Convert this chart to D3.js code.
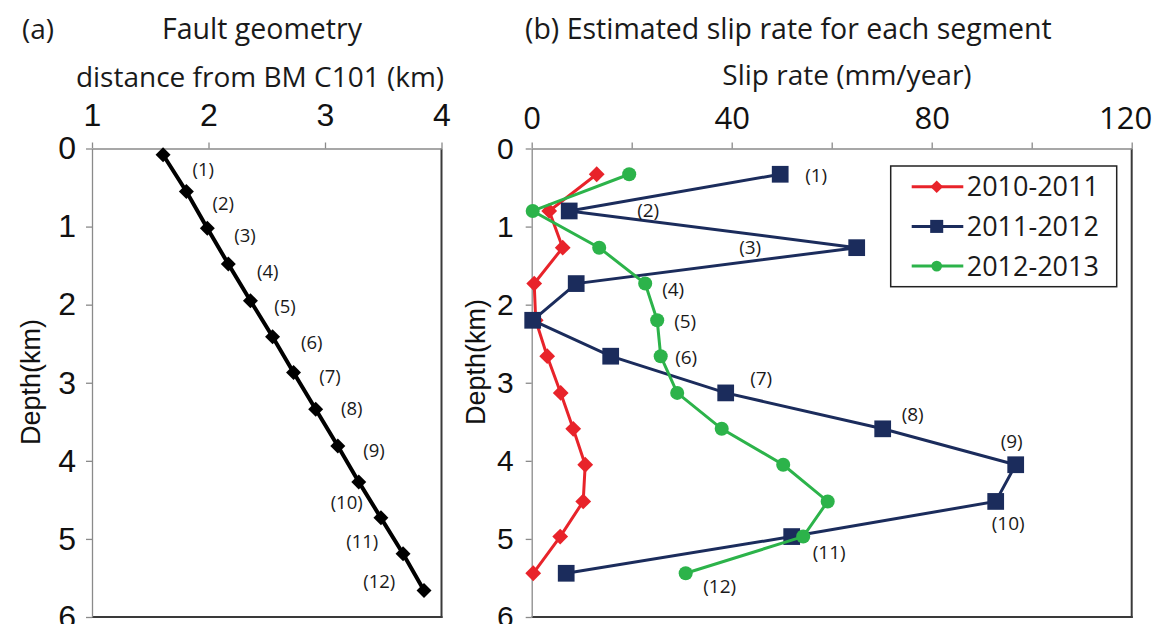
<!DOCTYPE html>
<html>
<head>
<meta charset="utf-8">
<script src="https://cdn.jsdelivr.net/npm/d3@7"></script>
<style>
body { margin: 0; background: #fff; }
svg { display: block; }
.tickLab { font-family: "Liberation Sans", Arial, sans-serif; }
.cal { font-family: "Open Sans", sans-serif; fill: #1a1a1a; }
</style>
</head>
<body>
<div id="chart"></div>
<script>
//------------------ DATA -------------------
// (a) fault geometry: distance from BM C101 (km) vs depth (km)
var geomDist  = [1.61, 1.81, 1.99, 2.17, 2.36, 2.55, 2.73, 2.92, 3.11, 3.29, 3.48, 3.67, 3.85];
var geomDepth = [0.08, 0.55, 1.02, 1.48, 1.95, 2.41, 2.87, 3.34, 3.81, 4.27, 4.73, 5.19, 5.66];
var segLabels = ['(1)','(2)','(3)','(4)','(5)','(6)','(7)','(8)','(9)','(10)','(11)','(12)'];
var geomLabelDist  = [1.955, 2.127, 2.313, 2.508, 2.657, 2.886, 3.043, 3.229, 3.421, 3.186, 3.320, 3.466];
var geomLabelDepth = [0.27, 0.70, 1.12, 1.58, 2.03, 2.49, 2.92, 3.33, 3.87, 4.54, 5.03, 5.54];

// (b) slip rate per segment (mm/year)
var segDepth = [0.33, 0.80, 1.27, 1.73, 2.20, 2.66, 3.13, 3.59, 4.05, 4.52, 4.97, 5.44];
var rate2010 = [13.0, 3.5, 6.2, 0.5, 0.8, 3.1, 5.8, 8.3, 10.7, 10.3, 5.7, 0.3];
var rate2011 = [49.7, 7.5, 65.0, 8.9, 0.2, 15.8, 38.8, 70.2, 96.8, 92.8, 52.0, 6.9];
var rate2012 = [19.5, 0.2, 13.5, 22.7, 25.1, 25.8, 29.1, 38.0, 50.3, 59.2, 54.3, 30.8];
var rateLabelX = [56.9, 23.3, 43.7, 28.3, 30.7, 30.9, 45.9, 76.2, 96.0, 95.3, 59.5, 37.6];
var rateLabelDepth = [0.35, 0.79, 1.265, 1.80, 2.21, 2.67, 2.94, 3.41, 3.75, 4.80, 5.17, 5.61];

var seriesNames = ['2010-2011', '2011-2012', '2012-2013'];
var seriesColors = ['#e8232a', '#1b2c5c', '#2cb34a'];
// diamonds are squares turned by 45 degrees
var seriesShapes = [d3.symbolSquare, d3.symbolSquare, d3.symbolCircle];
var seriesRot = [45, 0, 0];

var depthTicks = [0, 1, 2, 3, 4, 5, 6];
var distTicks = [1, 2, 3, 4];
var rateTicks = [0, 20, 40, 60, 80, 100, 120];

//------------------ SETUP -------------------
var W = 1155, H = 624;
var svg = d3.select('#chart').append('svg').attr('width', W).attr('height', H);

var plotTop = 148.5, plotBottom = 617;

var xL = d3.scaleLinear().domain([1, 4]).range([92, 441.5]);
var xR = d3.scaleLinear().domain([0, 120]).range([531.7, 1131.7]);
var yD = d3.scaleLinear().domain([0, 6]).range([plotTop, plotBottom]);
var fmt = d3.format('d');

function frame(x0, x1) {
	// lighter axes on top/left, darker border right/bottom
	svg.append('line').attr('x1', x1).attr('x2', x1).attr('y1', plotTop).attr('y2', plotBottom + 1)
		.attr('stroke', '#3a3a3a').attr('stroke-width', 2);
	svg.append('line').attr('x1', x0).attr('x2', x1 + 1).attr('y1', plotBottom).attr('y2', plotBottom)
		.attr('stroke', '#3a3a3a').attr('stroke-width', 2);
}

function styleAxis(g, fontSize, family) {
	g.select('.domain').attr('stroke', '#8a8a8a').attr('stroke-width', 1.3);
	g.selectAll('.tick line').attr('stroke', '#8a8a8a').attr('stroke-width', 1.3);
	g.selectAll('.tick text').attr('fill', '#111').style('font-size', fontSize + 'px')
		.style('font-family', family);
}

function text(x, y, s, size, anchor, cls) {
	return svg.append('text').attr('class', cls || 'cal').attr('x', x).attr('y', y)
		.attr('text-anchor', anchor || 'start').style('font-size', size + 'px').text(s);
}

var arial = '"Liberation Sans", Arial, sans-serif';

//------------------ PANEL (a) -------------------
frame(92, 441.5);

var axTopL = svg.append('g').attr('transform', 'translate(0,' + plotTop + ')')
	.call(d3.axisTop(xL).tickValues(distTicks).tickFormat(fmt).tickSize(6).tickPadding(17).tickSizeOuter(0));
styleAxis(axTopL, 32, arial);

var axLeftL = svg.append('g').attr('transform', 'translate(92,0)')
	.call(d3.axisLeft(yD).tickValues(depthTicks).tickFormat(fmt).tickSize(6).tickPadding(10).tickSizeOuter(0));
styleAxis(axLeftL, 32, arial);

text(22, 39, '(a)', 28);
text(262, 39, 'Fault geometry', 28.5, 'middle');
text(260, 87, 'distance from BM C101 (km)', 28, 'middle');

svg.append('text').attr('class', 'tickLab')
	.attr('transform', 'translate(40,382) rotate(-90)')
	.attr('text-anchor', 'middle').style('font-size', '27px').attr('fill', '#111')
	.text('Depth(km)');

var geom = geomDist.map(function (d, i) { return [d, geomDepth[i]]; });

svg.append('path').datum(geom)
	.attr('fill', 'none').attr('stroke', '#000').attr('stroke-width', 4)
	.attr('d', d3.line().x(function (d) { return xL(d[0]); }).y(function (d) { return yD(d[1]); }));

svg.selectAll('.geomPt').data(geom).enter().append('path')
	.attr('class', 'geomPt')
	.attr('transform', function (d) { return 'translate(' + xL(d[0]) + ',' + yD(d[1]) + ') rotate(45)'; })
	.attr('d', d3.symbol().type(d3.symbolSquare).size(112))
	.attr('fill', '#000');

svg.selectAll('.geomLab').data(segLabels).enter().append('text')
	.attr('class', 'cal geomLab')
	.attr('x', function (d, i) { return xL(geomLabelDist[i]); })
	.attr('y', function (d, i) { return yD(geomLabelDepth[i]); })
	.attr('dy', '0.35em').attr('text-anchor', 'middle')
	.style('font-size', '18.5px')
	.text(function (d) { return d; });

//------------------ PANEL (b) -------------------
frame(531.7, 1131.7);

var axTopR = svg.append('g').attr('transform', 'translate(0,' + plotTop + ')')
	.call(d3.axisTop(xR).tickValues(rateTicks).tickSize(6).tickPadding(14).tickSizeOuter(0)
		.tickFormat(function (d) { return d % 40 === 0 ? d : ''; }));
styleAxis(axTopR, 31, '"Open Sans", sans-serif');
// last label sits just inside the page edge
axTopR.selectAll('.tick text').filter(function (d) { return d === 120; })
	.attr('text-anchor', 'end').attr('dx', 20);

var axLeftR = svg.append('g').attr('transform', 'translate(531.7,0)')
	.call(d3.axisLeft(yD).tickValues(depthTicks).tickFormat(fmt).tickSize(6).tickPadding(12).tickSizeOuter(0));
styleAxis(axLeftR, 30, arial);

text(525, 39, '(b) Estimated slip rate for each segment', 28.5);
text(847, 85, 'Slip rate (mm/year)', 28, 'middle');

svg.append('text').attr('class', 'tickLab')
	.attr('transform', 'translate(485,362) rotate(-90)')
	.attr('text-anchor', 'middle').style('font-size', '27px').attr('fill', '#111')
	.text('Depth(km)');

var rates = [rate2010, rate2011, rate2012];
var symSizes = [125, 280, 155];

rates.forEach(function (vals, s) {
	var pts = vals.map(function (v, i) { return [v, segDepth[i]]; });
	var g = svg.append('g');
	g.append('path').datum(pts)
		.attr('fill', 'none').attr('stroke', seriesColors[s]).attr('stroke-width', 3)
		.attr('d', d3.line().x(function (d) { return xR(d[0]); }).y(function (d) { return yD(d[1]); }));
	g.selectAll('path.pt').data(pts).enter().append('path')
		.attr('class', 'pt')
		.attr('transform', function (d) {
			return 'translate(' + xR(d[0]) + ',' + yD(d[1]) + ') rotate(' + seriesRot[s] + ')';
		})
		.attr('d', d3.symbol().type(seriesShapes[s]).size(symSizes[s]))
		.attr('fill', seriesColors[s]);
});

svg.selectAll('.rateLab').data(segLabels).enter().append('text')
	.attr('class', 'cal rateLab')
	.attr('x', function (d, i) { return xR(rateLabelX[i]); })
	.attr('y', function (d, i) { return yD(rateLabelDepth[i]); })
	.attr('dy', '0.35em').attr('text-anchor', 'middle')
	.style('font-size', '19px')
	.text(function (d) { return d; });

// legend
var leg = svg.append('g').attr('transform', 'translate(890.7,166)');
leg.append('rect').attr('width', 226).attr('height', 120.7)
	.attr('fill', '#fff').attr('stroke', '#222').attr('stroke-width', 1.5);
var legSizes = [80, 170, 90];
seriesNames.forEach(function (name, s) {
	var yy = 20.7 + s * 39.7;
	leg.append('line').attr('x1', 21).attr('x2', 72.6).attr('y1', yy).attr('y2', yy)
		.attr('stroke', seriesColors[s]).attr('stroke-width', 3);
	leg.append('path').attr('transform', 'translate(46,' + yy + ') rotate(' + seriesRot[s] + ')')
		.attr('d', d3.symbol().type(seriesShapes[s]).size(legSizes[s]))
		.attr('fill', seriesColors[s]);
	leg.append('text').attr('class', 'cal').attr('x', 76).attr('y', yy).attr('dy', '0.36em')
		.style('font-size', '27px').text(name);
});
</script>
</body>
</html>
